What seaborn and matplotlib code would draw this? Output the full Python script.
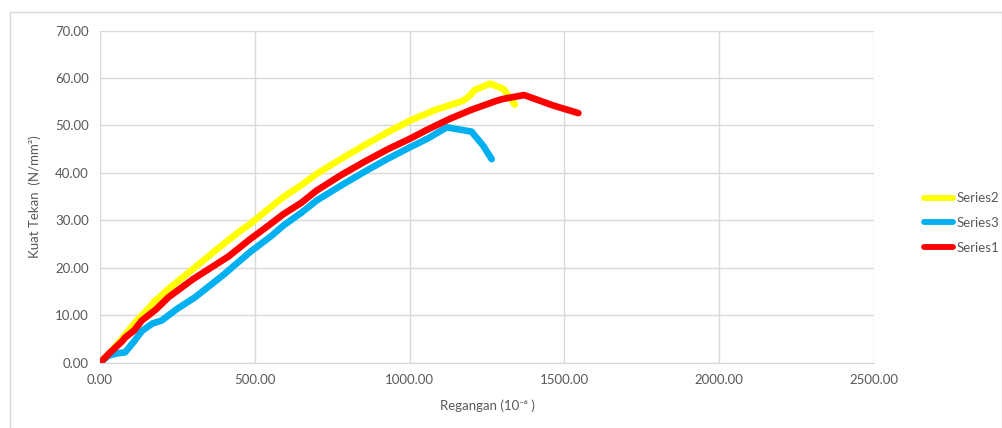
import numpy as np
import pandas as pd
import matplotlib
matplotlib.use("Agg")
import matplotlib.pyplot as plt
import seaborn as sns

# ---------------------------------------------------------------- DATA
s2_x = [0, 30, 70, 120, 165, 172, 220, 307, 370, 447, 484, 540, 592, 650, 700,
        780, 861, 930, 1001, 1080, 1173, 1195, 1211, 1260, 1303, 1340]
s2_y = [0, 2.0, 5.0, 9.0, 12.0, 12.7, 15.5, 20.1, 23.5, 27.5, 29.2, 32.2, 34.9,
        37.4, 39.8, 43.0, 46.1, 48.6, 51.0, 53.2, 55.2, 56.3, 57.5, 58.8, 57.7, 54.4]

s3_x = [0, 27, 55, 81, 110, 135, 170, 199, 250, 307, 400, 484, 555, 592, 650,
        700, 780, 861, 930, 1001, 1060, 1120, 1200, 1238, 1265]
s3_y = [0, 1.5, 2.0, 2.2, 4.5, 6.7, 8.3, 8.9, 11.4, 13.8, 18.6, 23.3, 26.8, 28.9,
        31.6, 34.2, 37.4, 40.5, 43.0, 45.4, 47.3, 49.6, 48.7, 45.7, 42.9]

s1_x = [0, 30, 71, 81, 110, 135, 180, 221, 300, 415, 484, 544, 592, 650, 700,
        780, 861, 930, 1001, 1060, 1130, 1200, 1281, 1303, 1370, 1464, 1545]
s1_y = [0, 2.0, 4.5, 5.3, 6.8, 8.9, 11.2, 13.8, 17.6, 22.4, 26.0, 28.9, 31.3,
        33.7, 36.3, 39.6, 42.6, 45.0, 47.2, 49.2, 51.4, 53.3, 55.2, 55.6, 56.4,
        54.2, 52.6]

series_order = ["Series2", "Series3", "Series1"]
PALETTE = {"Series2": "#FFFF00", "Series3": "#00B0F0", "Series1": "#FF0000"}

df = pd.concat([
    pd.DataFrame({"x": s2_x, "y": s2_y, "series": "Series2"}),
    pd.DataFrame({"x": s3_x, "y": s3_y, "series": "Series3"}),
    pd.DataFrame({"x": s1_x, "y": s1_y, "series": "Series1"}),
], ignore_index=True)

# ---------------------------------------------------------------- PLOT
sns.set_style("white")
plt.rcParams["font.family"] = ["Lato", "DejaVu Sans"]
TXT = "#595959"
GRID = "#D9D9D9"

fig = plt.figure(figsize=(10.03, 4.28), dpi=100)
ax = fig.add_axes([100 / 1003, (428 - 362.8) / 428, 774 / 1003, 332.3 / 428])

sns.lineplot(data=df, x="x", y="y", hue="series", hue_order=series_order,
             palette=PALETTE, sort=False, estimator=None,
             linewidth=4.8, solid_capstyle="round", solid_joinstyle="round",
             ax=ax, legend=False)

ax.set_xlim(0, 2500)
ax.set_ylim(0, 70)
ax.set_xticks(np.arange(0, 2501, 500))
ax.set_yticks(np.arange(0, 71, 10))
ax.set_xticklabels([f"{v:.2f}" for v in np.arange(0, 2501, 500)])
ax.set_yticklabels([f"{v:.2f}" for v in np.arange(0, 71, 10)])
ax.tick_params(length=0, labelsize=9.5, colors=TXT, pad=8)
ax.grid(True, color=GRID, linewidth=1)
for sp in ["top", "right", "left"]:
    ax.spines[sp].set_visible(False)
ax.spines["bottom"].set_color(GRID)
ax.set_xlabel("Regangan (10⁻⁶ )", color=TXT, fontsize=9.5, labelpad=10)
ax.set_ylabel("Kuat Tekan  (N/mm²)", color=TXT, fontsize=9.5, labelpad=10)

handles = [plt.Line2D([], [], color=PALETTE[s], lw=4.2, solid_capstyle="round")
           for s in series_order]
fig.legend(handles, series_order, loc="center left",
           bbox_to_anchor=(912 / 1003, 1 - 223 / 428), frameon=False,
           fontsize=9.5, labelcolor=TXT, handlelength=2.2, handletextpad=0.25,
           labelspacing=0.95)

# chart-area border
fig.add_artist(plt.Rectangle((10 / 1003, -0.05), 992 / 1003, 1.05 - 12 / 428,
                             transform=fig.transFigure, fill=False,
                             edgecolor=GRID, linewidth=1))

fig.savefig("out.png", dpi=100)
